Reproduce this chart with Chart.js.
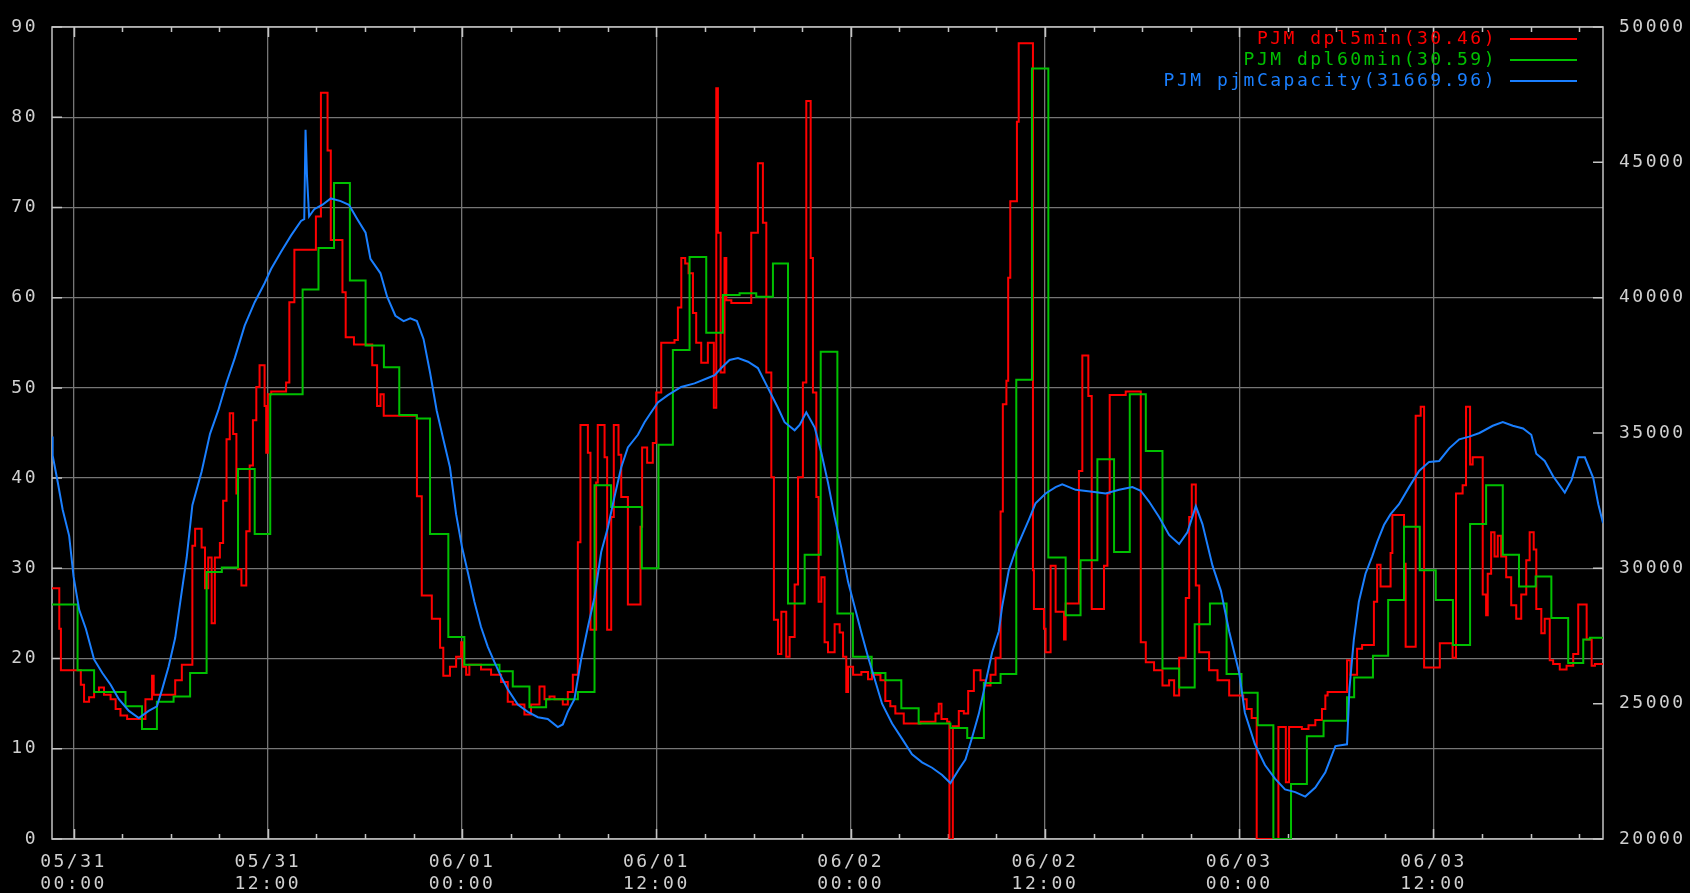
<!DOCTYPE html>
<html>
<head>
<meta charset="utf-8">
<title>PJM dpl / capacity</title>
<script src="https://cdn.jsdelivr.net/npm/chart.js@4.4.1/dist/chart.umd.min.js"></script>
<style>
  html, body { margin: 0; padding: 0; background: #000; }
  canvas { display: block; }
</style>
</head>
<body>
<canvas id="pjm" width="1690" height="893"></canvas>
<script>
// hours counted from 05/31 00:00
const xMin = -1.33;
const xMax = 94.47;
const xTickHours = [0, 12, 24, 36, 48, 60, 72, 84];
const xTickLabels = [
    ['05/31', '00:00'], ['05/31', '12:00'], ['06/01', '00:00'], ['06/01', '12:00'],
    ['06/02', '00:00'], ['06/02', '12:00'], ['06/03', '00:00'], ['06/03', '12:00']
];

const seriesLabels = ['PJM dpl5min(30.46)', 'PJM dpl60min(30.59)', 'PJM pjmCapacity(31669.96)'];
const seriesColors = ['#ff0000', '#00c000', '#1a7fff'];

// dpl 15 min: step start hour / value
const dpl15Hours = [
    -1.33, -0.88, -0.78, 0.45, 0.65, 0.96, 1.27, 1.57, 1.88, 2.29,
    2.60, 2.90, 3.31, 4.44, 4.85, 4.95, 6.28, 6.69, 7.34, 7.51,
    7.91, 8.12, 8.32, 8.53, 8.73, 9.04, 9.24, 9.45, 9.65, 9.86,
    10.06, 10.16, 10.37, 10.67, 10.88, 11.08, 11.29, 11.49, 11.80, 11.90,
    12.00, 12.21, 13.13, 13.33, 13.64, 14.97, 15.28, 15.69, 15.89, 16.61,
    16.81, 17.32, 18.45, 18.75, 18.96, 19.16, 21.21, 21.51, 22.13, 22.64,
    22.84, 23.25, 23.63, 23.94, 24.04, 24.25, 24.45, 25.17, 25.79, 26.41,
    26.82, 27.13, 27.85, 28.26, 28.78, 29.09, 29.40, 29.71, 30.22, 30.53,
    30.84, 31.15, 31.31, 31.77, 31.93, 32.28, 32.38, 32.80, 32.96, 33.21,
    33.37, 33.66, 33.83, 34.24, 35.02, 35.12, 35.43, 35.78, 35.99, 36.30,
    37.12, 37.33, 37.54, 37.78, 37.99, 38.26, 38.46, 38.77, 39.18, 39.55,
    39.70, 39.80, 39.97, 40.21, 40.32, 40.63, 41.86, 42.27, 42.58, 42.79,
    43.10, 43.26, 43.51, 43.72, 44.02, 44.23, 44.54, 44.75, 45.05, 45.26,
    45.53, 45.67, 45.88, 46.02, 46.19, 46.39, 46.60, 47.01, 47.32, 47.53,
    47.73, 47.84, 48.15, 48.66, 49.07, 49.32, 49.84, 50.14, 50.45, 50.76,
    51.28, 52.31, 53.24, 53.44, 53.61, 53.96, 54.10, 54.31, 54.68, 54.99,
    55.26, 55.61, 56.02, 56.33, 56.64, 56.95, 57.26, 57.40, 57.62, 57.73,
    57.86, 58.27, 58.38, 59.26, 59.32, 59.94, 60.04, 60.35, 60.66, 61.18,
    61.28, 62.10, 62.31, 62.68, 62.89, 63.65, 63.86, 64.00, 64.99, 65.92,
    66.23, 66.74, 67.26, 67.67, 67.98, 68.29, 68.70, 68.91, 69.07, 69.32,
    69.53, 70.14, 70.66, 71.38, 72.25, 72.46, 72.77, 73.08, 74.42, 74.88,
    75.08, 75.87, 76.28, 76.70, 77.11, 77.32, 77.46, 78.66, 78.87, 79.28,
    79.59, 80.32, 80.52, 80.73, 81.35, 81.46, 82.18, 82.28, 82.90, 83.21,
    83.42, 84.39, 85.18, 85.39, 85.80, 86.01, 86.26, 86.42, 87.04, 87.25,
    87.35, 87.56, 87.77, 87.97, 88.18, 88.49, 88.80, 89.11, 89.42, 89.73,
    89.94, 90.19, 90.35, 90.66, 90.87, 91.18, 91.39, 91.80, 92.22, 92.63,
    92.94, 93.46, 93.77, 93.97, 94.47
];
const dpl15Values = [
    27.8, 23.3, 18.7, 17.1, 15.2, 15.7, 16.3, 16.8, 16.0, 15.5,
    14.4, 13.7, 13.3, 15.5, 18.1, 16.0, 17.6, 19.3, 32.5, 34.4,
    32.3, 27.8, 31.2, 23.9, 31.2, 32.8, 37.5, 44.3, 47.2, 44.9,
    38.3, 29.9, 28.1, 34.1, 41.4, 46.4, 50.1, 52.5, 48.0, 42.8,
    49.3, 49.6, 50.6, 59.5, 65.3, 69.0, 82.7, 76.3, 66.4, 60.6,
    55.6, 54.8, 52.5, 48.0, 49.3, 46.9, 38.0, 27.0, 24.4, 21.2,
    18.1, 19.1, 20.2, 21.8, 19.1, 18.2, 19.3, 18.8, 18.2, 17.4,
    15.2, 14.9, 13.8, 14.9, 16.9, 15.5, 15.8, 15.5, 14.9, 16.3,
    18.2, 32.9, 45.9, 42.8, 23.2, 39.5, 45.9, 42.3, 23.2, 35.7,
    45.9, 42.6, 37.9, 26.0, 34.6, 43.4, 41.7, 43.9, 49.5, 55.0,
    55.3, 58.9, 64.4, 63.8, 62.7, 58.3, 55.0, 52.8, 55.0, 47.8,
    83.2, 67.2, 51.7, 64.4, 59.7, 59.4, 67.2, 74.9, 68.3, 51.7,
    40.1, 24.3, 20.5, 25.2, 20.2, 22.4, 28.2, 40.1, 50.6, 81.8,
    64.4, 49.5, 37.9, 26.3, 29.0, 21.8, 20.7, 23.8, 22.9, 20.2,
    16.3, 19.1, 18.2, 18.5, 17.7, 18.2, 17.6, 15.3, 14.7, 13.9,
    12.8, 13.0, 13.9, 15.0, 13.3, 13.0, 0, 12.5, 14.2, 13.9,
    16.4, 18.7, 17.6, 17.0, 18.2, 20.1, 36.3, 48.2, 50.8, 62.2,
    70.7, 79.5, 88.2, 29.8, 25.5, 23.3, 20.7, 30.3, 25.2, 22.1,
    26.1, 40.8, 53.6, 49.1, 25.5, 30.3, 38.3, 49.2, 49.6, 21.8,
    19.6, 18.7, 17.0, 17.6, 15.9, 20.1, 26.7, 35.7, 39.3, 28.1,
    20.7, 18.7, 17.6, 15.9, 15.5, 14.4, 13.4, 0, 12.4, 6.3,
    12.4, 12.2, 12.6, 13.2, 14.4, 15.9, 16.3, 19.8, 18.2, 21.1,
    21.5, 26.3, 30.4, 28.0, 31.7, 35.9, 30.5, 21.3, 46.9, 47.9,
    19.0, 21.7, 20.1, 38.3, 39.2, 47.9, 41.5, 42.3, 27.1, 24.8,
    29.4, 34.0, 31.3, 33.6, 31.3, 29.0, 25.9, 24.4, 27.1, 30.9,
    34.0, 32.1, 25.5, 22.8, 24.4, 19.8, 19.4, 18.8, 19.2, 20.5,
    26.0, 22.1, 19.2, 19.4, 19.4
];

// dpl 60 min: step start hour / value
const dpl60Hours = [
    -1.33, 0.25, 1.27, 3.21, 4.23, 5.15, 6.18, 7.20, 8.22, 9.16,
    10.16, 11.19, 12.15, 14.15, 15.13, 16.09, 17.07, 18.04, 19.17, 20.12,
    21.20, 22.02, 23.15, 24.14, 26.31, 27.13, 28.16, 29.19, 31.15, 32.18,
    33.20, 35.10, 36.13, 37.02, 38.05, 39.08, 40.11, 41.14, 42.17, 43.20,
    44.13, 45.16, 46.15, 47.18, 48.14, 49.30, 50.15, 51.13, 52.20, 54.16,
    55.20, 56.23, 57.26, 58.23, 59.20, 60.21, 61.28, 62.20, 63.24, 64.27,
    65.24, 66.23, 67.26, 68.29, 69.25, 70.19, 71.22, 72.14, 73.14, 74.11,
    75.20, 76.18, 77.21, 78.66, 79.10, 80.26, 81.20, 82.18, 83.15, 84.14,
    85.20, 86.26, 87.25, 88.28, 89.28, 90.31, 91.28, 92.32, 93.25, 93.66,
    94.47
];
const dpl60Values = [
    26.0, 18.7, 16.3, 14.7, 12.2, 15.2, 15.8, 18.4, 29.6, 30.1,
    41.0, 33.8, 49.3, 60.9, 65.5, 72.7, 61.9, 54.7, 52.3, 47.0,
    46.6, 33.8, 22.4, 19.3, 18.6, 16.9, 14.6, 15.5, 16.3, 39.2,
    36.8, 30.0, 43.7, 54.2, 64.5, 56.1, 60.3, 60.5, 60.1, 63.8,
    26.1, 31.5, 54.0, 25.0, 20.2, 18.4, 17.6, 14.5, 12.8, 12.3,
    11.2, 17.3, 18.3, 50.9, 85.4, 31.2, 24.8, 30.9, 42.1, 31.8,
    49.3, 43.0, 18.9, 16.8, 23.8, 26.1, 18.3, 16.2, 12.6, 0,
    6.1, 11.4, 13.1, 15.7, 17.9, 20.3, 26.5, 34.6, 29.8, 26.5,
    21.5, 34.9, 39.2, 31.5, 28.0, 29.1, 24.5, 19.5, 22.1, 22.3,
    22.3
];

// pjm capacity (MW, right axis)
const capacityHours = [
    -1.33, -1.29, -0.98, -0.67, -0.27, 0, 0.35, 0.76, 1.27, 1.78,
    2.29, 2.80, 3.42, 4.03, 4.64, 5.15, 5.46, 5.87, 6.28, 6.69,
    6.99, 7.34, 7.91, 8.43, 8.94, 9.45, 9.96, 10.57, 11.19, 11.80,
    12.21, 12.82, 13.44, 14.05, 14.25, 14.33, 14.42, 14.55, 14.87, 15.38,
    15.89, 16.50, 17.01, 17.53, 18.04, 18.34, 18.96, 19.37, 19.88, 20.39,
    20.80, 21.21, 21.62, 22.02, 22.43, 22.84, 23.25, 23.63, 24.00, 24.35,
    24.76, 25.17, 25.59, 26.00, 26.41, 26.82, 27.44, 28.06, 28.68, 29.29,
    29.91, 30.22, 30.53, 30.94, 31.35, 31.77, 32.18, 32.59, 33.00, 33.41,
    33.83, 34.24, 34.86, 35.27, 35.68, 36.09, 36.71, 37.53, 38.36, 39.18,
    39.60, 40.01, 40.52, 41.04, 41.66, 42.27, 42.89, 43.51, 43.92, 44.54,
    44.85, 45.26, 45.78, 46.19, 46.60, 47.01, 47.42, 47.84, 48.25, 48.66,
    49.07, 49.32, 49.94, 50.56, 51.18, 51.79, 52.41, 53.03, 53.65, 54.16,
    54.68, 55.09, 55.51, 55.92, 56.33, 56.74, 57.15, 57.36, 57.77, 58.19,
    58.60, 59.01, 59.42, 60.04, 60.66, 61.07, 61.90, 62.93, 63.75, 64.58,
    65.40, 65.92, 66.43, 67.05, 67.67, 68.29, 68.80, 69.32, 69.73, 70.35,
    70.87, 71.38, 72.00, 72.35, 72.97, 73.59, 74.21, 74.83, 75.46, 76.08,
    76.70, 77.32, 77.94, 78.66, 78.81, 79.08, 79.39, 79.80, 80.21, 80.52,
    80.94, 81.35, 81.87, 82.49, 83.11, 83.73, 84.35, 84.97, 85.59, 86.21,
    86.84, 87.66, 88.28, 88.90, 89.53, 90.04, 90.35, 90.87, 91.39, 92.11,
    92.53, 92.94, 93.35, 93.87, 94.18, 94.47
];
const capacityValues = [
    34867, 34167, 33200, 32167, 31200, 29700, 28467, 27767, 26633, 26133,
    25700, 25167, 24733, 24467, 24733, 24900, 25500, 26367, 27433, 29167,
    30400, 32333, 33567, 34967, 35833, 36867, 37767, 38967, 39833, 40533,
    41067, 41700, 42300, 42833, 42900, 46200, 44500, 43000, 43267, 43433,
    43667, 43567, 43433, 42900, 42400, 41433, 40900, 40033, 39333, 39133,
    39233, 39133, 38467, 37233, 35833, 34767, 33733, 32000, 30767, 29867,
    28767, 27833, 27100, 26533, 26000, 25533, 24967, 24700, 24500, 24433,
    24133, 24233, 24700, 25167, 26633, 27833, 28933, 30600, 31500, 32633,
    33733, 34467, 34933, 35400, 35767, 36133, 36400, 36700, 36833, 37033,
    37133, 37400, 37700, 37767, 37633, 37400, 36667, 35933, 35400, 35100,
    35300, 35767, 35200, 34267, 33167, 31900, 30767, 29500, 28567, 27633,
    26733, 26233, 25000, 24267, 23700, 23133, 22833, 22633, 22367, 22067,
    22567, 22933, 23767, 24633, 25767, 26900, 27667, 28600, 29933, 30667,
    31233, 31800, 32400, 32767, 33000, 33100, 32900, 32833, 32767, 32900,
    33000, 32867, 32467, 31900, 31233, 30900, 31333, 32300, 31633, 30100,
    29167, 27667, 26133, 24667, 23500, 22733, 22233, 21833, 21733, 21567,
    21900, 22467, 23433, 23500, 25567, 27367, 28767, 29800, 30433, 30967,
    31600, 32000, 32367, 33000, 33600, 33933, 33967, 34433, 34767, 34867,
    35000, 35267, 35400, 35267, 35167, 34933, 34233, 33967, 33400, 32800,
    33267, 34100, 34100, 33333, 32367, 31670
];

const monoFont = "'DejaVu Sans Mono', 'Liberation Mono', monospace";
const textColor = '#d0d0d0';
const gridColor = '#767676';
const frameColor = '#c4c4c4';
const spacing = '2.5px';

function toPoints(hours, values) {
    return hours.map(function (h, i) { return { x: h, y: values[i] }; });
}

// black background, gnuplot style border with inward ticks, and the key
const gnuplotLook = {
    id: 'gnuplotLook',
    beforeLayout(chart) {
        chart.ctx.letterSpacing = spacing;
    },
    beforeDraw(chart) {
        const ctx = chart.ctx;
        ctx.save();
        ctx.fillStyle = '#000';
        ctx.fillRect(0, 0, chart.width, chart.height);
        ctx.restore();
        ctx.letterSpacing = spacing;
    },
    beforeDatasetsDraw(chart) {
        const ctx = chart.ctx;
        const a = chart.chartArea;
        const sx = chart.scales.x;
        ctx.save();
        ctx.strokeStyle = frameColor;
        ctx.lineWidth = 1.5;
        ctx.strokeRect(a.left, a.top, a.right - a.left, a.bottom - a.top);
        ctx.beginPath();
        for (let h = 0; h <= xMax; h += 3) {
            const px = Math.round(sx.getPixelForValue(h)) + 0.5;
            const len = h % 12 === 0 ? 10 : 5;
            ctx.moveTo(px, a.bottom); ctx.lineTo(px, a.bottom - len);
            ctx.moveTo(px, a.top); ctx.lineTo(px, a.top + len);
        }
        chart.scales.y.ticks.forEach(function (t) {
            const py = chart.scales.y.getPixelForValue(t.value);
            ctx.moveTo(a.left, py); ctx.lineTo(a.left + 10, py);
        });
        chart.scales.y2.ticks.forEach(function (t) {
            const py = chart.scales.y2.getPixelForValue(t.value);
            ctx.moveTo(a.right, py); ctx.lineTo(a.right - 10, py);
        });
        ctx.stroke();
        ctx.restore();
    },
    afterDatasetsDraw(chart) {
        const ctx = chart.ctx;
        ctx.save();
        ctx.letterSpacing = spacing;
        ctx.font = '18px ' + monoFont;
        ctx.textAlign = 'right';
        ctx.textBaseline = 'middle';
        ctx.lineWidth = 2;
        seriesLabels.forEach(function (label, i) {
            const y = 39 + i * 21;
            ctx.fillStyle = seriesColors[i];
            ctx.fillText(label, 1497, y);
            ctx.strokeStyle = seriesColors[i];
            ctx.beginPath();
            ctx.moveTo(1510, y);
            ctx.lineTo(1577, y);
            ctx.stroke();
        });
        ctx.restore();
    }
};

const tickFont = { family: monoFont, size: 18, lineHeight: '22px' };

new Chart(document.getElementById('pjm'), {
    type: 'line',
    data: {
        datasets: [{
            label: seriesLabels[0],
            data: toPoints(dpl15Hours, dpl15Values),
            borderColor: seriesColors[0],
            borderWidth: 2,
            pointRadius: 0,
            stepped: 'before',
            yAxisID: 'y',
            order: 3
        }, {
            label: seriesLabels[1],
            data: toPoints(dpl60Hours, dpl60Values),
            borderColor: seriesColors[1],
            borderWidth: 2,
            pointRadius: 0,
            stepped: 'before',
            yAxisID: 'y',
            order: 2
        }, {
            label: seriesLabels[2],
            data: toPoints(capacityHours, capacityValues),
            borderColor: seriesColors[2],
            borderWidth: 2,
            pointRadius: 0,
            tension: 0,
            yAxisID: 'y2',
            order: 1
        }]
    },
    options: {
        responsive: false,
        animation: false,
        devicePixelRatio: 1,
        layout: { padding: { top: 19, left: 0, right: 0, bottom: 0 } },
        plugins: {
            legend: { display: false },
            tooltip: { enabled: false }
        },
        scales: {
            x: {
                type: 'linear',
                min: xMin,
                max: xMax,
                afterBuildTicks: function (s) { s.ticks = xTickHours.map(function (v) { return { value: v }; }); },
                afterFit: function (s) { s.height = 54; },
                grid: { color: gridColor, lineWidth: 1.3, drawTicks: false },
                border: { display: false },
                ticks: {
                    color: textColor,
                    font: tickFont,
                    padding: 12,
                    maxRotation: 0,
                    autoSkip: false,
                    callback: function (v) { return xTickLabels[xTickHours.indexOf(v)]; }
                }
            },
            y: {
                position: 'left',
                min: 0,
                max: 90,
                afterFit: function (s) { s.width = 52; },
                grid: { color: gridColor, lineWidth: 1.3, drawTicks: false },
                border: { display: false },
                ticks: {
                    stepSize: 10,
                    color: textColor,
                    font: tickFont,
                    padding: 14,
                    callback: function (v) { return String(v); }
                }
            },
            y2: {
                position: 'right',
                min: 20000,
                max: 50000,
                afterFit: function (s) { s.width = 87; },
                grid: { display: false, drawTicks: false },
                border: { display: false },
                ticks: {
                    stepSize: 5000,
                    color: textColor,
                    font: tickFont,
                    padding: 16,
                    callback: function (v) { return String(v); }
                }
            }
        }
    },
    plugins: [gnuplotLook]
});
</script>
</body>
</html>
